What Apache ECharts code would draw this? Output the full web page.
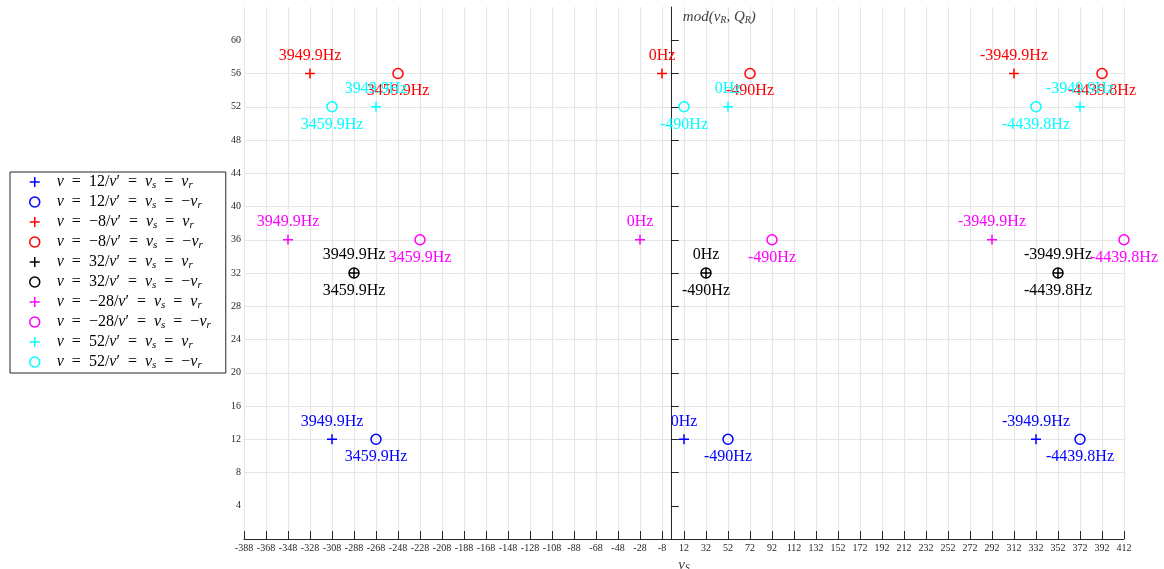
<!DOCTYPE html>
<html>
<head>
<meta charset="utf-8">
<script src="https://cdn.jsdelivr.net/npm/echarts@6/dist/echarts.min.js"></script>
<style>
html,body{margin:0;padding:0;background:#fff;}
#chart{width:1164px;height:569px;}
</style>
</head>
<body>
<div id="chart"></div>
<script>
// ---- data ----
const yTickValues = [4, 8, 12, 16, 20, 24, 28, 32, 36, 40, 44, 48, 52, 56, 60];
const seriesKeys = ['p12', 'o12', 'pm8', 'om8', 'p32', 'o32', 'pm28', 'om28', 'p52', 'o52'];
const seriesColors = ['#0000ff', '#0000ff', '#ff0000', '#ff0000', '#000000', '#000000', '#ff00ff', '#ff00ff', '#00ffff', '#00ffff'];
const seriesY = [12, 12, 56, 56, 32, 32, 36, 36, 52, 52];
const plusX_v12 = [-308, 12, 332];
const circX_v12 = [-268, 52, 372];
const plusX_vm8 = [-328, -8, 312];
const circX_vm8 = [-248, 72, 392];
const plusX_v32 = [-288, 32, 352];
const circX_v32 = [-288, 32, 352];
const plusX_vm28 = [-348, -28, 292];
const circX_vm28 = [-228, 92, 412];
const plusX_v52 = [-268, 52, 372];
const circX_v52 = [-308, 12, 332];
const plusLabels = ['3949.9Hz', '0Hz', '-3949.9Hz'];
const circLabels = ['3459.9Hz', '-490Hz', '-4439.8Hz'];
const legendTexts = [
  '{i|v}{e|=}12/{i|v}\u2032{e|=}{i|v}{s|s}{e|=}{i|v}{s|r}',
  '{i|v}{e|=}12/{i|v}\u2032{e|=}{i|v}{s|s}{e|=}\u2212{i|v}{s|r}',
  '{i|v}{e|=}\u22128/{i|v}\u2032{e|=}{i|v}{s|s}{e|=}{i|v}{s|r}',
  '{i|v}{e|=}\u22128/{i|v}\u2032{e|=}{i|v}{s|s}{e|=}\u2212{i|v}{s|r}',
  '{i|v}{e|=}32/{i|v}\u2032{e|=}{i|v}{s|s}{e|=}{i|v}{s|r}',
  '{i|v}{e|=}32/{i|v}\u2032{e|=}{i|v}{s|s}{e|=}\u2212{i|v}{s|r}',
  '{i|v}{e|=}\u221228/{i|v}\u2032{e|=}{i|v}{s|s}{e|=}{i|v}{s|r}',
  '{i|v}{e|=}\u221228/{i|v}\u2032{e|=}{i|v}{s|s}{e|=}\u2212{i|v}{s|r}',
  '{i|v}{e|=}52/{i|v}\u2032{e|=}{i|v}{s|s}{e|=}{i|v}{s|r}',
  '{i|v}{e|=}52/{i|v}\u2032{e|=}{i|v}{s|s}{e|=}\u2212{i|v}{s|r}'
];
const seriesXs = [plusX_v12, circX_v12, plusX_vm8, circX_vm8, plusX_v32, circX_v32, plusX_vm28, circX_vm28, plusX_v52, circX_v52];

// ---- chart ----
const SERIF = '"Liberation Serif", "DejaVu Serif", serif';
const PLUS = 'path://M5,0L5,10M0,5L10,5';

const series = seriesKeys.map(function (key, k) {
  const isPlus = key.charAt(0) === 'p';
  const xs = seriesXs[k];
  const labels = isPlus ? plusLabels : circLabels;
  const c = seriesColors[k];
  return {
    name: key,
    type: 'scatter',
    symbol: isPlus ? PLUS : 'circle',
    symbolSize: 10,
    symbolKeepAspect: true,
    data: xs.map(function (x, i) { return { value: [x, seriesY[k]], lab: labels[i] }; }),
    itemStyle: { color: 'rgba(0,0,0,0)', borderColor: c, borderWidth: 1.5, opacity: 1 },
    label: {
      show: true,
      position: isPlus ? 'top' : 'bottom',
      distance: 4,
      color: c,
      fontFamily: SERIF,
      fontSize: 16,
      formatter: function (p) { return p.data.lab; }
    },
    emphasis: { disabled: true },
    clip: false,
    z: 3
  };
});

const chart = echarts.init(document.getElementById('chart'), null, { renderer: 'canvas' });
chart.setOption({
  animation: false,
  backgroundColor: '#ffffff',
  grid: { left: 244, right: 40, top: 7, bottom: 30, containLabel: false, outerBoundsMode: 'none' },
  legend: {
    orient: 'vertical',
    left: 10,
    top: 172,
    padding: [0, 15, 1, 19],
    itemGap: 0,
    itemWidth: 34,
    itemHeight: 10,
    borderColor: '#262626',
    borderWidth: 1,
    backgroundColor: '#ffffff',
    selectedMode: false,
    data: seriesKeys,
    itemStyle: { borderWidth: 1.5 },
    formatter: function (name) { return legendTexts[seriesKeys.indexOf(name)]; },
    textStyle: {
      fontFamily: SERIF, fontSize: 16, color: '#000', lineHeight: 20, padding: [0, 0, 0, 0],
      rich: {
        i: { fontFamily: SERIF, fontStyle: 'italic', fontSize: 16, lineHeight: 20 },
        e: { fontFamily: SERIF, fontSize: 16, lineHeight: 20, padding: [0, 8, 0, 8] },
        s: { fontFamily: SERIF, fontStyle: 'italic', fontSize: 11, lineHeight: 20, padding: [7, 0, 0, 0] }
      }
    }
  },
  xAxis: {
    type: 'value',
    min: -388,
    max: 412,
    interval: 20,
    name: '{i|v}{s|S}',
    nameLocation: 'middle',
    nameGap: 13,
    nameTextStyle: {
      color: '#404040',
      rich: {
        i: { fontFamily: SERIF, fontStyle: 'italic', fontSize: 15, color: '#404040' },
        s: { fontFamily: SERIF, fontStyle: 'italic', fontSize: 10, color: '#404040', padding: [6, 0, 0, 0] }
      }
    },
    axisLine: { show: true, onZero: false, lineStyle: { color: '#262626', width: 1 } },
    axisTick: { show: true, inside: true, length: 8, lineStyle: { color: '#262626', width: 1 } },
    axisLabel: { color: '#262626', fontFamily: SERIF, fontSize: 10, margin: 4, showMinLabel: true, showMaxLabel: true, hideOverlap: false, interval: 0 },
    splitLine: { show: true, lineStyle: { color: '#e6e6e6', width: 1.2 } }
  },
  yAxis: {
    type: 'value',
    min: 0,
    max: 64,
    interval: 4,
    name: '{t|mod(}{t|v}{s|R}{t|, Q}{s|R}{t|)}',
    nameLocation: 'end',
    nameGap: -10,
    nameTextStyle: {
      align: 'left',
      verticalAlign: 'middle',
      padding: [0, 0, 0, 12],
      rich: {
        t: { fontFamily: SERIF, fontStyle: 'italic', fontSize: 15, color: '#404040' },
        s: { fontFamily: SERIF, fontStyle: 'italic', fontSize: 10, color: '#404040', padding: [6, 0, 0, 0] }
      }
    },
    axisLine: { show: true, onZero: true, lineStyle: { color: '#262626', width: 1 } },
    axisTick: { show: true, inside: true, length: 8, customValues: yTickValues, lineStyle: { color: '#262626', width: 1 } },
    axisLabel: { color: '#262626', fontFamily: SERIF, fontSize: 10, margin: 3, customValues: yTickValues },
    splitLine: { show: true, showMinLine: false, showMaxLine: false, lineStyle: { color: '#e6e6e6', width: 1.2 } }
  },
  series: series
});
</script>
</body>
</html>
